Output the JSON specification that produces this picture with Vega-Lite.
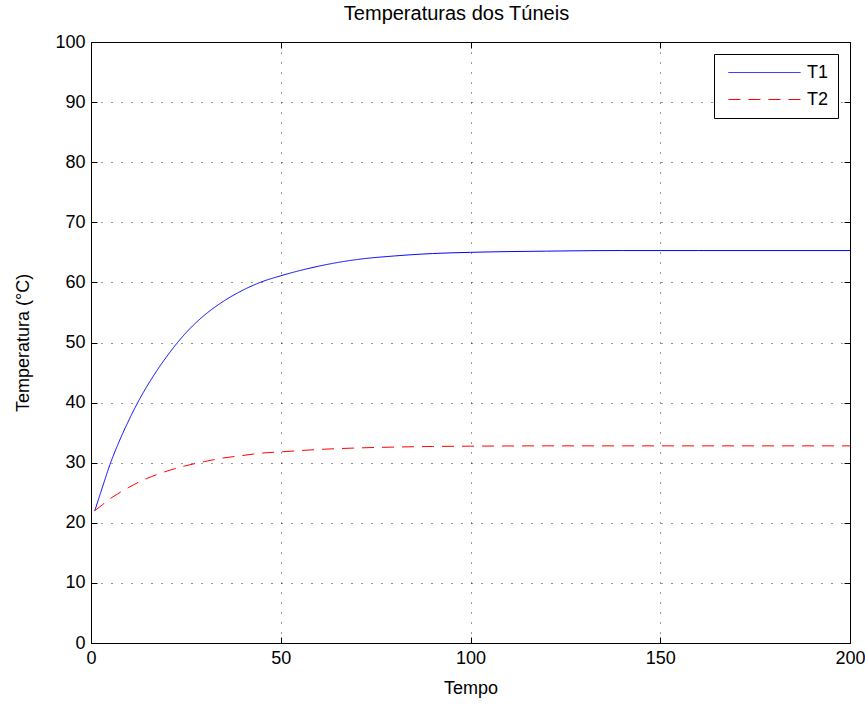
{
  "$schema": "https://vega.github.io/schema/vega-lite/v6.json",
  "width": 759,
  "height": 601,
  "autosize": {"type": "none"},
  "padding": {"left": 91, "top": 42, "right": 15, "bottom": 61},
  "background": "white",
  "title": {"text": "Temperaturas dos Túneis", "font": "Liberation Sans", "fontSize": 20, "fontWeight": "normal", "color": "black", "offset": 9, "dx": -14},
  "config": {
    "view": {"stroke": "black", "strokeWidth": 1},
    "font": "Liberation Sans",
    "axis": {
      "labelFont": "Liberation Sans", "labelFontSize": 18, "labelColor": "black",
      "titleFont": "Liberation Sans", "titleFontSize": 18, "titleFontWeight": "normal", "titleColor": "black",
      "domain": false, "tickColor": "black", "tickSize": -6, "tickWidth": 1, "labelFlush": false,
      "grid": true, "gridColor": "black", "gridDash": [1, 9], "gridOpacity": 0.8
    }
  },
  "data": {"values": [
    {"t": 1, "s": "T1", "v": 22.0}, {"t": 3, "s": "T1", "v": 25.9}, {"t": 5, "s": "T1", "v": 29.7},
    {"t": 7, "s": "T1", "v": 32.9}, {"t": 10, "s": "T1", "v": 37.1}, {"t": 13, "s": "T1", "v": 40.8},
    {"t": 16, "s": "T1", "v": 44.0}, {"t": 20, "s": "T1", "v": 47.7}, {"t": 25, "s": "T1", "v": 51.6},
    {"t": 30, "s": "T1", "v": 54.6}, {"t": 35, "s": "T1", "v": 56.9}, {"t": 40, "s": "T1", "v": 58.7},
    {"t": 45, "s": "T1", "v": 60.1}, {"t": 50, "s": "T1", "v": 61.1}, {"t": 60, "s": "T1", "v": 62.7},
    {"t": 70, "s": "T1", "v": 63.8}, {"t": 80, "s": "T1", "v": 64.4}, {"t": 90, "s": "T1", "v": 64.8},
    {"t": 100, "s": "T1", "v": 65.0}, {"t": 120, "s": "T1", "v": 65.2}, {"t": 140, "s": "T1", "v": 65.3},
    {"t": 160, "s": "T1", "v": 65.3}, {"t": 200, "s": "T1", "v": 65.3},
    {"t": 1, "s": "T2", "v": 22.0}, {"t": 3, "s": "T2", "v": 23.0}, {"t": 5, "s": "T2", "v": 24.0},
    {"t": 7, "s": "T2", "v": 24.8}, {"t": 10, "s": "T2", "v": 25.9}, {"t": 13, "s": "T2", "v": 26.9},
    {"t": 16, "s": "T2", "v": 27.7}, {"t": 20, "s": "T2", "v": 28.6}, {"t": 25, "s": "T2", "v": 29.5},
    {"t": 30, "s": "T2", "v": 30.2}, {"t": 35, "s": "T2", "v": 30.8}, {"t": 40, "s": "T2", "v": 31.2},
    {"t": 45, "s": "T2", "v": 31.6}, {"t": 50, "s": "T2", "v": 31.8}, {"t": 60, "s": "T2", "v": 32.2},
    {"t": 70, "s": "T2", "v": 32.45}, {"t": 80, "s": "T2", "v": 32.6}, {"t": 90, "s": "T2", "v": 32.7},
    {"t": 100, "s": "T2", "v": 32.75}, {"t": 120, "s": "T2", "v": 32.8}, {"t": 140, "s": "T2", "v": 32.8},
    {"t": 160, "s": "T2", "v": 32.8}, {"t": 200, "s": "T2", "v": 32.8}
  ]},
  "layer": [
    {
      "mark": {"type": "line", "strokeWidth": 1, "interpolate": "monotone"},
      "encoding": {
        "x": {"field": "t", "type": "quantitative", "scale": {"domain": [0, 200], "nice": false},
              "axis": {"title": "Tempo", "values": [0, 50, 100, 150, 200], "labelPadding": 12, "titlePadding": 12}},
        "y": {"field": "v", "type": "quantitative", "scale": {"domain": [0, 100], "nice": false},
              "axis": {"title": "Temperatura (°C)", "values": [0, 10, 20, 30, 40, 50, 60, 70, 80, 90, 100], "labelPadding": 12, "titlePadding": 22}},
        "color": {"field": "s", "type": "nominal", "scale": {"domain": ["T1", "T2"], "range": ["#0000ff", "#ff0000"]},
                  "legend": {"title": null, "orient": "none", "legendX": 623, "legendY": 12, "symbolType": "M-0.45,0H7.55", "symbolSize": 324, "symbolStrokeWidth": 1,
                             "labelFontSize": 18, "labelFont": "Liberation Sans", "labelColor": "black", "labelOffset": 65, "rowPadding": 8,
                             "padding": 9, "strokeColor": "black", "fillColor": "white", "cornerRadius": 0}},
        "strokeDash": {"field": "s", "type": "nominal", "scale": {"domain": ["T1", "T2"], "range": [[1, 0], [12, 8]]}}
      }
    },
    {
      "mark": {"type": "point", "opacity": 0},
      "encoding": {
        "x": {"field": "t", "type": "quantitative", "axis": {"orient": "top", "title": null, "labels": false, "grid": false, "values": [0, 50, 100, 150, 200]}},
        "y": {"field": "v", "type": "quantitative", "axis": {"orient": "right", "title": null, "labels": false, "grid": false, "values": [0, 10, 20, 30, 40, 50, 60, 70, 80, 90, 100]}}
      }
    }
  ],
  "resolve": {"axis": {"x": "independent", "y": "independent"}}
}
